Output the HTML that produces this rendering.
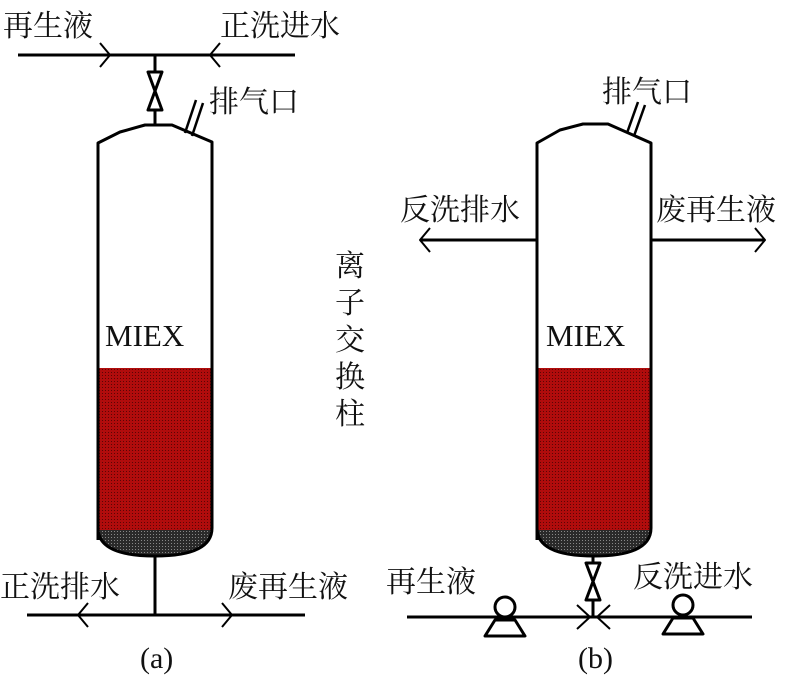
<!DOCTYPE html>
<html><head><meta charset="utf-8"><style>
body{margin:0;background:#fff}
svg{display:block}
text{font-family:"Liberation Serif","Noto Serif CJK SC","Noto Sans CJK SC",serif;fill:#111}
</style></head><body>
<svg width="796" height="677" viewBox="0 0 796 677" xmlns="http://www.w3.org/2000/svg">
<defs>
<pattern id="red" width="3" height="3" patternUnits="userSpaceOnUse"><rect width="3" height="3" fill="#b00c0c"/><rect width="1" height="1" fill="#5a0505"/></pattern>
<pattern id="dk" width="3" height="3" patternUnits="userSpaceOnUse"><rect width="3" height="3" fill="#2a2a2a"/><rect width="1" height="1" fill="#888"/></pattern>
</defs>
<g stroke="#000" stroke-width="3" fill="none" stroke-linejoin="round">
<!-- column a -->
<path d="M98,528 Q98,556 155,556 Q212,556 212,528 Z" fill="url(#dk)" stroke="none"/>
<rect x="98" y="368" width="114" height="162" fill="url(#red)" stroke="none"/>
<path d="M98,540 L98,143 L120,132 L145,125 L172,125 L212,142 L212,528 Q212,556 155,556 Q98,556 98,528"/>
<line x1="18" y1="55" x2="295" y2="55"/>
<polyline points="100,43 110,55 100,67" stroke-width="2"/>
<polyline points="220,43 210,55 220,67" stroke-width="2"/>
<line x1="155" y1="55" x2="155" y2="125"/>
<path d="M148,72 L162,72 L148,110 L162,110 Z" fill="#fff"/>
<line x1="185" y1="133" x2="196" y2="100" stroke-width="2.5"/>
<line x1="192" y1="136" x2="203" y2="103" stroke-width="2.5"/>
<line x1="155" y1="556" x2="155" y2="615"/>
<line x1="27" y1="615" x2="305" y2="615"/>
<polyline points="88,603 78,615 88,627" stroke-width="2"/>
<polyline points="222,603 232,615 222,627" stroke-width="2"/>

<!-- column b -->
<path d="M537,528 Q537,556 594,556 Q651,556 651,528 Z" fill="url(#dk)" stroke="none"/>
<rect x="537" y="368" width="114" height="162" fill="url(#red)" stroke="none"/>
<path d="M537,540 L537,143 L560,130 L583,124 L608,124 L651,143 L651,528 Q651,556 594,556 Q537,556 537,528"/>
<line x1="627" y1="133" x2="638" y2="102" stroke-width="2.5"/>
<line x1="634" y1="136" x2="645" y2="105" stroke-width="2.5"/>
<line x1="420" y1="240" x2="537" y2="240"/>
<polyline points="430,228 420,240 430,252" stroke-width="2"/>
<line x1="651" y1="240" x2="765" y2="240"/>
<polyline points="755,228 765,240 755,252" stroke-width="2"/>
<line x1="593" y1="556" x2="593" y2="617"/>
<path d="M586,563 L600,563 L586,600 L600,600 Z" fill="#fff"/>
<line x1="407" y1="617" x2="752" y2="617"/>
<polyline points="577,605 590,617 577,629" stroke-width="2"/>
<polyline points="610,605 597,617 610,629" stroke-width="2"/>
<path d="M485,636 L495,620 L515,620 L525,636 Z" fill="#fff"/>
<circle cx="505" cy="607" r="10" fill="#fff"/>
<path d="M663,634 L673,618 L693,618 L703,634 Z" fill="#fff"/>
<circle cx="683" cy="605" r="10" fill="#fff"/>
</g>
<g font-size="30">
<text x="3" y="36">再生液</text>
<text x="220" y="36">正洗进水</text>
<text x="209" y="112">排气口</text>
<text x="105" y="346" font-size="31">MIEX</text>
<text x="0" y="597">正洗排水</text>
<text x="228" y="597">废再生液</text>
<text x="140" y="668">(a)</text>
<text x="602" y="102">排气口</text>
<text x="400" y="220">反洗排水</text>
<text x="656" y="220">废再生液</text>
<text x="546" y="346" font-size="31">MIEX</text>
<text x="386" y="592">再生液</text>
<text x="633" y="587">反洗进水</text>
<text x="578" y="668">(b)</text>
<text x="335" y="276">离</text>
<text x="335" y="313">子</text>
<text x="335" y="350">交</text>
<text x="335" y="387">换</text>
<text x="335" y="424">柱</text>
</g>
</svg>
</body></html>
